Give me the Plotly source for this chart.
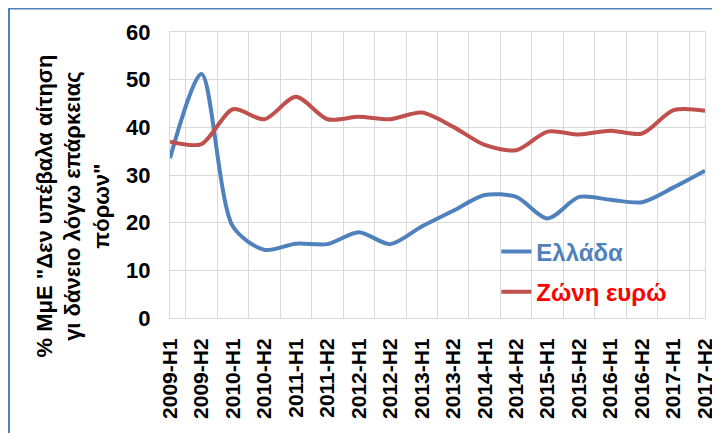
import plotly.graph_objects as go

categories = ["2009-H1", "2009-H2", "2010-H1", "2010-H2", "2011-H1", "2011-H2",
              "2012-H1", "2012-H2", "2013-H1", "2013-H2", "2014-H1", "2014-H2",
              "2015-H1", "2015-H2", "2016-H1", "2016-H2", "2017-H1", "2017-H2"]
greece = [33.5, 51.2, 19.2, 14.3, 15.6, 15.5, 18.0, 15.5, 19.2, 22.5, 25.8, 25.4,
          20.9, 25.4, 24.8, 24.3, 27.4, 30.9]
eurozone = [37.0, 36.5, 43.8, 41.7, 46.4, 41.7, 42.2, 41.7, 43.1, 40.1, 36.3, 35.2,
            39.1, 38.5, 39.3, 38.7, 43.6, 43.5]
y_ticks = [0, 10, 20, 30, 40, 50, 60]

BLUE = "#4F81BD"
RED = "#C0504D"
FONT = "Liberation Sans, Arial, sans-serif"

# page body has an 8px margin, so the figure is drawn at (8, 8)
W, H = 712, 425
L, R, T, B = 162, 15, 24, 115
PW, PH = W - L - R, H - T - B

fig = go.Figure()
fig.add_trace(go.Scatter(
    x=categories, y=greece, mode="lines", line=dict(color=BLUE, width=4, shape="spline", smoothing=0.8),
    name='<span style="color:#4F81BD">Ελλάδα</span>', legendgroup="g1"))
fig.add_trace(go.Scatter(
    x=categories, y=eurozone, mode="lines", line=dict(color=RED, width=4, shape="spline", smoothing=0.8),
    name='<span style="color:#FF0000">Ζώνη ευρώ</span>', legendgroup="g2"))

fig.update_layout(
    width=W, height=H,
    margin=dict(l=L, r=R, t=T, b=B, autoexpand=False),
    paper_bgcolor="white", plot_bgcolor="white",
    font=dict(family=FONT, color="black"),
    showlegend=True,
    legend=dict(x=0.61, y=0.31, xanchor="left", yanchor="top",
                bgcolor="rgba(0,0,0,0)", borderwidth=0, tracegroupgap=6,
                font=dict(size=24, family=FONT, weight="bold")),
    xaxis=dict(type="category", tickson="boundaries", showgrid=True, gridcolor="#D9D9D9",
               gridwidth=1, showline=True, linecolor="#D9D9D9", mirror=True,
               tickangle=-90, ticks="", ticklabelstandoff=11, automargin=False,
               tickfont=dict(size=21, family=FONT, weight="bold", color="black"),
               fixedrange=True),
    yaxis=dict(range=[0, 60], tickvals=y_ticks, showgrid=True, gridcolor="#D9D9D9",
               gridwidth=1, showline=True, linecolor="#D9D9D9", mirror=True,
               zeroline=False, ticks="", ticklabelstandoff=14, automargin=False,
               tickfont=dict(size=22, family=FONT, weight="bold", color="black"),
               fixedrange=True),
)

fig.add_annotation(
    text='% ΜμΕ "Δεν υπέβαλα αίτηση<br>γι δάνειο λόγω επάρκειας<br>πόρων"',
    xref="paper", yref="paper", x=-97 / PW, y=0.39, xanchor="center", yanchor="middle",
    textangle=-90, showarrow=False, align="center",
    font=dict(size=22, family=FONT, weight="bold", color="black"))

fig.add_shape(type="rect", xref="paper", yref="paper",
              x0=(1 - L) / PW, x1=1.2, y0=-0.6, y1=(PH + T - 0.5) / PH,
              line=dict(color=BLUE, width=2), fillcolor="rgba(0,0,0,0)", layer="above")

fig.write_html("out.html")
